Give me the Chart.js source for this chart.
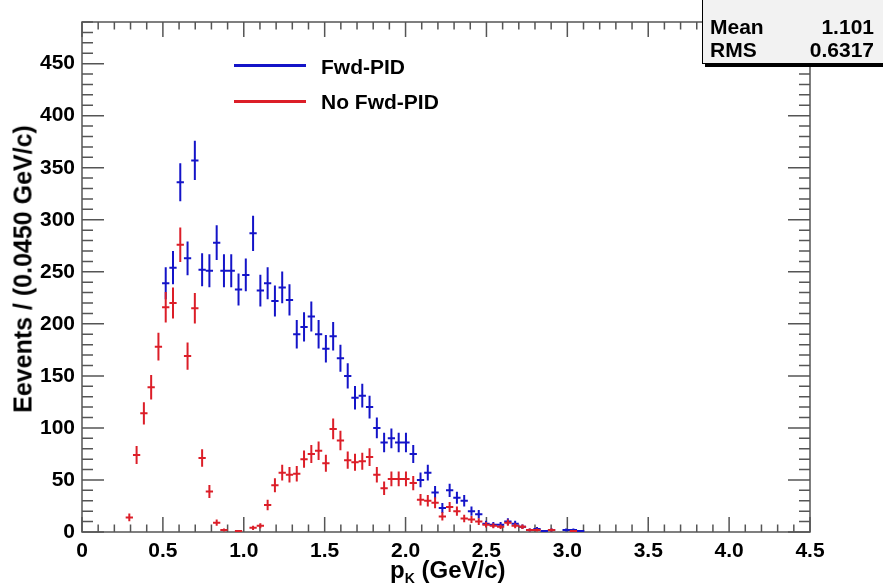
<!DOCTYPE html>
<html lang="en">
<head>
<meta charset="UTF-8">
<title>p_K distribution, Fwd-PID vs No Fwd-PID</title>
<script src="https://cdn.jsdelivr.net/npm/chart.js"></script>
<style>
  body { margin: 0; background: #fff; }
  #wrap { position: relative; width: 883px; height: 588px; overflow: hidden;
          font-family: 'Liberation Sans', Arial, sans-serif; font-weight: bold; color: #000; }
  #wrap canvas { position: absolute; left: 0; top: 0; }
  .stats { position: absolute; left: 702px; top: -4px; width: 200px; height: 66px;
           background: #f2f2f2; border: 1px solid #000; box-shadow: 3px 3px 0 #000; font-size: 21px; }
  .stats .row { position: absolute; left: 7px; width: 164px; height: 22px; line-height: 22px;
                display: flex; justify-content: space-between; }
  .leg-line { position: absolute; left: 234px; width: 72px; height: 3px; }
  .leg-text { position: absolute; left: 321px; height: 24px; line-height: 24px; font-size: 21px; white-space: nowrap; }
  .xtitle { position: absolute; left: 390px; top: 556px; font-size: 24px; line-height: 28px; white-space: nowrap; }
  .xtitle sub { font-size: 14px; vertical-align: -5px; }
  .ytitle { position: absolute; left: 23px; top: 269px; font-size: 25px; white-space: nowrap;
            transform: translate(-50%, -50%) rotate(-90deg); }
</style>
</head>
<body>
<div id="wrap">
  <canvas id="pkChart" width="883" height="588"></canvas>
  <div class="leg-line" style="top:64px; background:#1414c8"></div>
  <div class="leg-text" style="top:55px">Fwd-PID</div>
  <div class="leg-line" style="top:100px; background:#dc1e28"></div>
  <div class="leg-text" style="top:90px">No Fwd-PID</div>
  <div class="stats">
    <div class="row" style="top:19px"><span>Mean</span><span>1.101</span></div>
    <div class="row" style="top:42px"><span>RMS</span><span>0.6317</span></div>
  </div>
  <div class="xtitle">p<sub>K</sub> (GeV/c)</div>
  <div class="ytitle">Eevents / (0.0450 GeV/c)</div>
</div>
<script>
// histogram bins of 0.045 GeV/c, arrays start at bin 6 (p = 0.27 GeV/c)
const binWidth = 0.045;
const firstBin = 6;

const noFwdPid = [14, 74, 114, 139, 178, 216, 220, 276, 169, 215,
                  71, 39, 9, 2, null, 1, null, 4, 6, 26,
                  45, 57, 55, 56, 70, 75, 78, 66, 99, 88,
                  69, 67, 68, 72, 55, 42, 51, 51, 51, 47,
                  31, 30, 28, 15, 24, 20, 13, 12, 10, 7,
                  6, 5, 9, 6, 5, 2, 2, null, 2, null,
                  null, 1, null];

const fwdPid = [null, null, null, null, null, 239, 254, 336, 263, 357,
                252, 251, 278, 251, 251, 233, 247, 287, 232, 239,
                222, 235, 223, 190, 197, 207, 190, 176, 188, 167,
                150, 129, 131, 120, 100, 86, 90, 86, 86, 75,
                50, 57, 38, 23, 40, 33, 30, 20, 17, 8,
                7, 7, 10, 8, 5, 2, 3, 1, 2, null,
                2, 2, 1];

const pK = noFwdPid.map((_, i) => (firstBin + i + 0.5) * binWidth);

const xTicks = [0, 0.5, 1, 1.5, 2, 2.5, 3, 3.5, 4, 4.5];
const yTicks = [0, 50, 100, 150, 200, 250, 300, 350, 400, 450];

function points(values) {
  return pK.map((x, i) => ({ x: x, y: values[i] })).filter(p => p.y !== null);
}

// ROOT style frame: ticks inside on all four sides, crosses with sqrt(N) errors
const rootFrame = {
  id: 'rootFrame',
  beforeDatasetsDraw(chart) {
    const { ctx, chartArea: a, scales: { x, y } } = chart;
    ctx.save();
    ctx.strokeStyle = '#555';
    ctx.lineWidth = 1.5;
    ctx.strokeRect(a.left, a.top, a.right - a.left, a.bottom - a.top);
    ctx.beginPath();
    for (let i = 0; i <= 45; i++) {
      const px = x.getPixelForValue(i / 10);
      const len = i % 5 === 0 ? 15 : 7.5;
      ctx.moveTo(px, a.bottom); ctx.lineTo(px, a.bottom - len);
      ctx.moveTo(px, a.top); ctx.lineTo(px, a.top + len);
    }
    for (let v = 0; v <= 490; v += 10) {
      const py = y.getPixelForValue(v);
      const len = v % 50 === 0 ? 22 : 11;
      ctx.moveTo(a.left, py); ctx.lineTo(a.left + len, py);
      ctx.moveTo(a.right, py); ctx.lineTo(a.right - len, py);
    }
    ctx.stroke();
    ctx.restore();
  },
  afterDatasetsDraw(chart) {
    const { ctx, scales: { x, y } } = chart;
    ctx.save();
    ctx.lineWidth = 2;
    chart.data.datasets.forEach(ds => {
      ctx.strokeStyle = ds.borderColor;
      ctx.beginPath();
      ds.data.forEach(p => {
        const px = x.getPixelForValue(p.x);
        const py = y.getPixelForValue(p.y);
        const err = Math.sqrt(p.y);
        ctx.moveTo(px, y.getPixelForValue(Math.max(0, p.y - err)));
        ctx.lineTo(px, y.getPixelForValue(p.y + err));
        ctx.moveTo(x.getPixelForValue(p.x - binWidth / 2), py);
        ctx.lineTo(x.getPixelForValue(p.x + binWidth / 2), py);
      });
      ctx.stroke();
    });
    ctx.restore();
  }
};

new Chart(document.getElementById('pkChart'), {
  type: 'scatter',
  data: {
    datasets: [
      { label: 'Fwd-PID', data: points(fwdPid), borderColor: '#1414c8', pointRadius: 0, showLine: false },
      { label: 'No Fwd-PID', data: points(noFwdPid), borderColor: '#dc1e28', pointRadius: 0, showLine: false }
    ]
  },
  options: {
    responsive: false,
    animation: false,
    layout: { padding: { top: 22, right: 73, left: 0, bottom: 0 } },
    plugins: { legend: { display: false }, tooltip: { enabled: false } },
    scales: {
      x: {
        type: 'linear', min: 0, max: 4.5,
        afterFit: s => { s.height = 56; },
        afterBuildTicks: s => { s.ticks = xTicks.map(v => ({ value: v })); },
        grid: { display: false, drawTicks: false },
        border: { display: false },
        ticks: { padding: 7, color: '#000', maxRotation: 0, autoSkip: false,
                 font: { family: 'Liberation Sans', weight: 'bold', size: 21 } }
      },
      y: {
        type: 'linear', min: 0, max: 490,
        afterFit: s => { s.width = 82; },
        afterBuildTicks: s => { s.ticks = yTicks.map(v => ({ value: v })); },
        grid: { display: false, drawTicks: false },
        border: { display: false },
        ticks: { padding: 7, color: '#000', autoSkip: false,
                 font: { family: 'Liberation Sans', weight: 'bold', size: 21 } }
      }
    }
  },
  plugins: [rootFrame]
});
</script>
</body>
</html>
